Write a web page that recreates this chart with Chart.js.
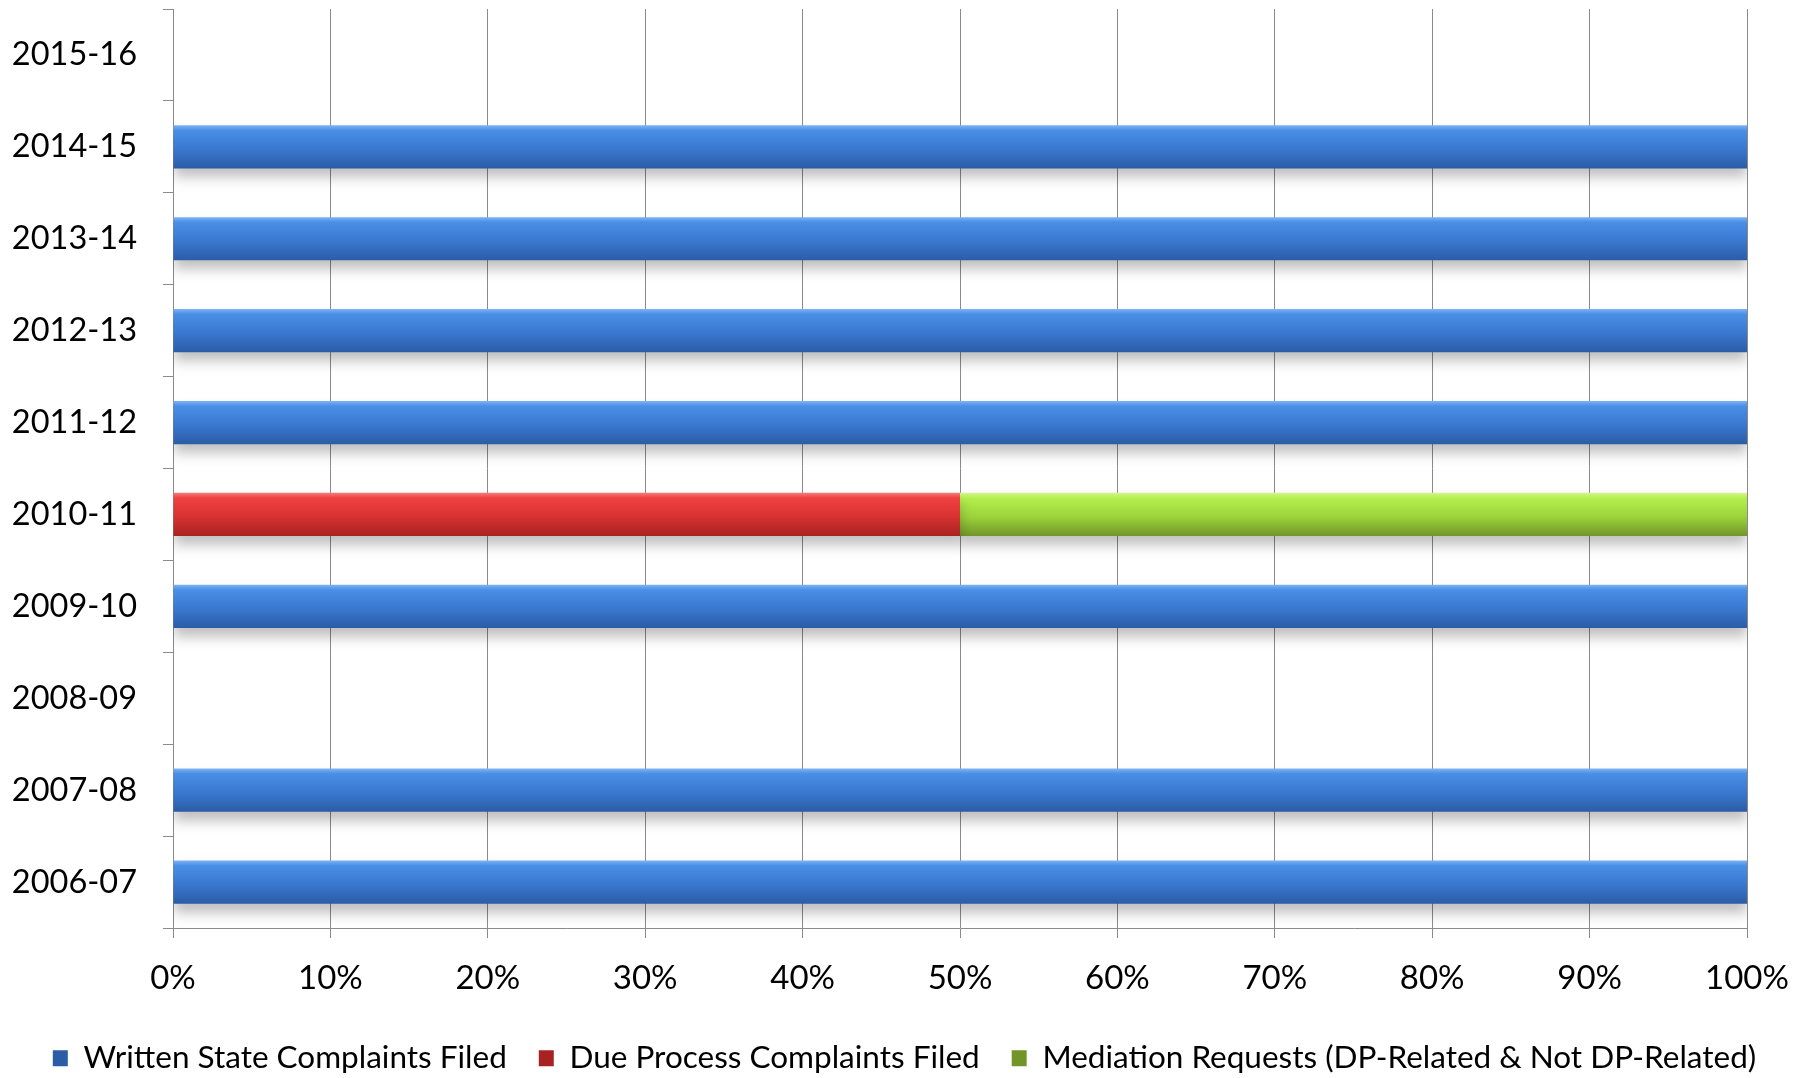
<!DOCTYPE html>
<html>
<head>
<meta charset="utf-8">
<script src="https://cdn.jsdelivr.net/npm/chart.js@4/dist/chart.umd.min.js"></script>
<style>
html,body{margin:0;padding:0;background:#fff;}
#wrap{width:1809px;height:1078px;position:relative;}
</style>
</head>
<body>
<div id="wrap"><canvas id="c" width="1809" height="1078"></canvas></div>
<script>
const categories = ['2015-16','2014-15','2013-14','2012-13','2011-12','2010-11','2009-10','2008-09','2007-08','2006-07'];
const writtenState = [null,100,100,100,100,null,100,null,100,100];
const dueProcess = [null,null,null,null,null,50,null,null,null,null];
const mediation = [null,null,null,null,null,50,null,null,null,null];
const xTicks = [0,10,20,30,40,50,60,70,80,90,100];
const seriesNames = ['Written State Complaints Filed','Due Process Complaints Filed','Mediation Requests (DP-Related & Not DP-Related)'];

const BAR_PCT = 0.47;
function grad(stops){
  return (c) => {
    const chart = c.chart;
    const ys = chart.scales && chart.scales.y;
    if (!ys || c.type !== 'data' || !isFinite(ys.top)) return stops[2];
    const yc = ys.getPixelForValue(c.dataIndex);
    const h = (ys.bottom - ys.top) / categories.length * BAR_PCT;
    const g = chart.ctx.createLinearGradient(0, yc - h/2, 0, yc + h/2);
    g.addColorStop(0, stops[0]);
    g.addColorStop(0.12, stops[1]);
    g.addColorStop(0.55, stops[2]);
    g.addColorStop(1, stops[3]);
    return g;
  };
}
const blue = ['#7db4f5','#4a8ee6','#3a78d0','#2b5ca6'];
const red = ['#f57a7a','#ef4040','#d83232','#a82222'];
const green = ['#d6f590','#b4ef4e','#9cd43a','#72952a'];

const shadowPlugin = {
  id: 'barShadow',
  beforeDatasetsDraw(chart){
    const ctx = chart.ctx;
    ctx.save();
    ctx.shadowColor = 'rgba(0,0,0,0.25)';
    ctx.shadowBlur = 12;
    ctx.shadowOffsetY = 9;
  },
  afterDatasetsDraw(chart){
    chart.ctx.restore();
  }
};

const FONT = 'Lato, "Open Sans", sans-serif';

new Chart(document.getElementById('c'), {
  type: 'bar',
  data: {
    labels: categories,
    datasets: [
      {label: seriesNames[0], data: writtenState, backgroundColor: grad(blue), borderWidth: 0},
      {label: seriesNames[1], data: dueProcess, backgroundColor: grad(red), borderWidth: 0},
      {label: seriesNames[2], data: mediation, backgroundColor: grad(green), borderWidth: 0}
    ]
  },
  options: {
    indexAxis: 'y',
    responsive: false,
    animation: false,
    devicePixelRatio: 1,
    categoryPercentage: 1,
    barPercentage: BAR_PCT,
    layout: {padding: {top: 9, right: 0, left: 0, bottom: -6}},
    scales: {
      x: {
        stacked: true,
        min: 0, max: 100,
        afterBuildTicks(scale){ scale.ticks = xTicks.map(v => ({value: v})); },
        afterFit(scale){ scale.height = 82.5; scale.paddingLeft = 0; scale.paddingRight = 62; },
        ticks: {
          callback: v => v + '%',
          color: '#000',
          font: {family: FONT, size: 33},
          padding: 21,
          maxRotation: 0
        },
        grid: {color: '#8a8a8a', lineWidth: 1, tickLength: 10, drawTicks: true},
        border: {display: true, color: '#8a8a8a'}
      },
      y: {
        stacked: true,
        afterFit(scale){ scale.width = 173; scale.paddingTop = 0; scale.paddingBottom = 0; },
        ticks: {
          color: '#000',
          font: {family: FONT, size: 32.5},
          padding: 26
        },
        grid: {offset: true, drawOnChartArea: false, drawTicks: true, tickLength: 10, color: '#8a8a8a'},
        border: {display: true, color: '#8a8a8a'}
      }
    },
    plugins: {
      legend: {
        position: 'bottom',
        labels: {
          color: '#000',
          font: {family: FONT, size: 31.5},
          boxWidth: 15,
          boxHeight: 16,
          padding: 32
        }
      },
      tooltip: {enabled: false}
    }
  },
  plugins: [shadowPlugin]
});
</script>
</body>
</html>
